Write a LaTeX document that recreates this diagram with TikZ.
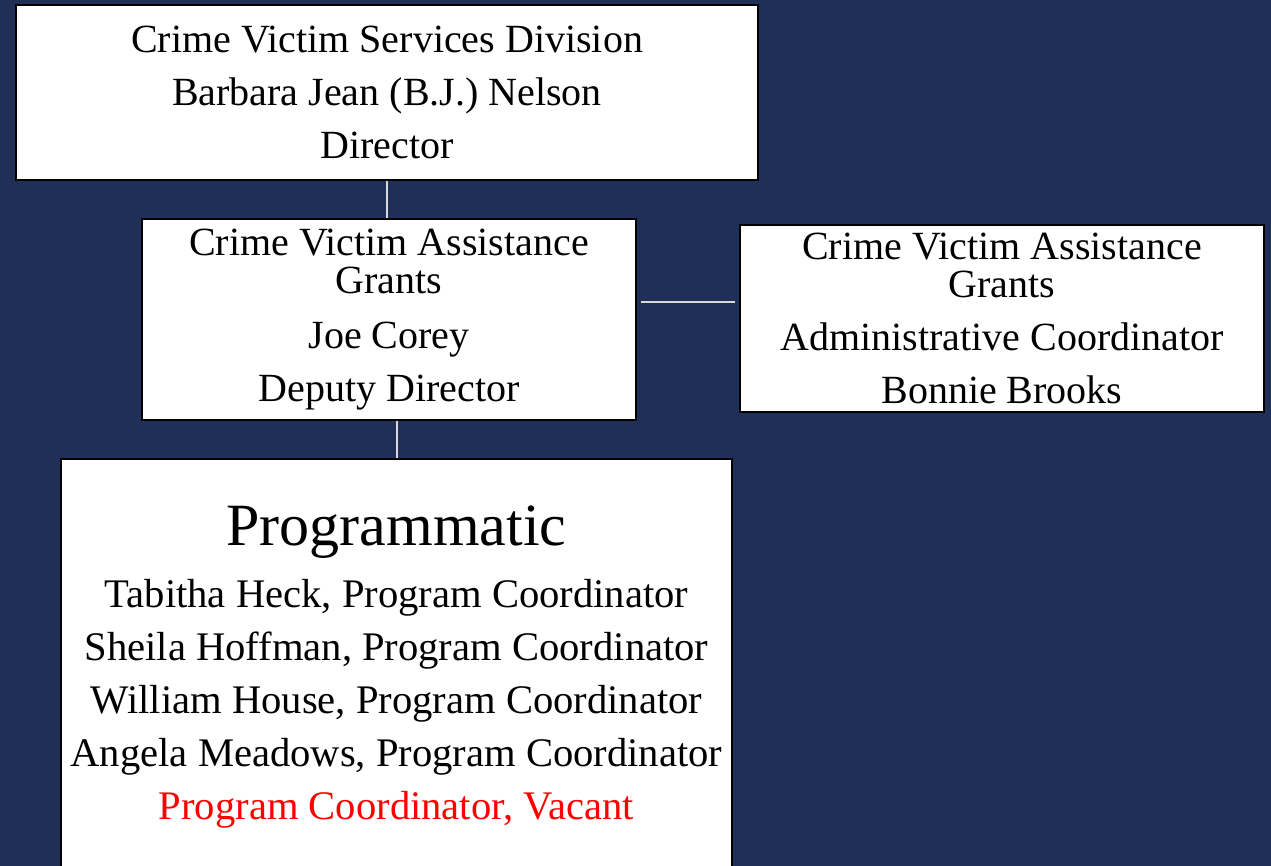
\documentclass[tikz,border=0pt]{standalone}
\usepackage{fontspec}
\setmainfont{Liberation Serif}
\usetikzlibrary{calc}
\definecolor{navy}{RGB}{31,47,88}
\definecolor{linkgray}{RGB}{217,217,217}
\definecolor{vacantred}{RGB}{255,0,0}
\begin{document}
\begin{tikzpicture}[x=1pt,y=-1pt,
  box/.style={draw=black,line width=2pt,fill=white,align=center,inner sep=0pt,
    font=\fontsize{40}{53}\selectfont},
  link/.style={draw=linkgray,line width=2pt}]
\fill[navy] (0,0) rectangle (1271,866);
\useasboundingbox (0,0) rectangle (1271,866);
\begin{scope}
\clip (0,0) rectangle (1271,866);
\node[box,minimum width=742pt,minimum height=175pt] (top) at (387,92.5)
  {Crime Victim Services Division\\Barbara Jean (B.J.) Nelson\\Director};
\node[box,minimum width=494pt,minimum height=201pt] (deputy) at (389,319.5)
  {Crime Victim Assistance\\[-15pt]Grants\\[2pt]Joe Corey\\Deputy Director};
\node[box,minimum width=524pt,minimum height=187pt] (admin) at (1002,318.5)
  {Crime Victim Assistance\\[-15pt]Grants\\Administrative Coordinator\\Bonnie Brooks};
\node[box,minimum width=671pt,minimum height=416pt,font=\fontsize{40.6}{53}\selectfont] (prog) at (396.5,667)
  {{\fontsize{60}{60}\selectfont Programmatic}\\[9pt]
   Tabitha Heck, Program Coordinator\\
   Sheila Hoffman, Program Coordinator\\
   William House, Program Coordinator\\
   Angela Meadows, Program Coordinator\\
   {\color{vacantred}Program Coordinator, Vacant}};
\draw[link] (top.south) -- (top.south |- deputy.north);
\draw[link] ($(deputy.east)+(4,-17.5)$) -- ($(admin.west)+(-4,-16.5)$);
\draw[link] (prog.north) -- (prog.north |- deputy.south);
\end{scope}
\end{tikzpicture}
\end{document}
